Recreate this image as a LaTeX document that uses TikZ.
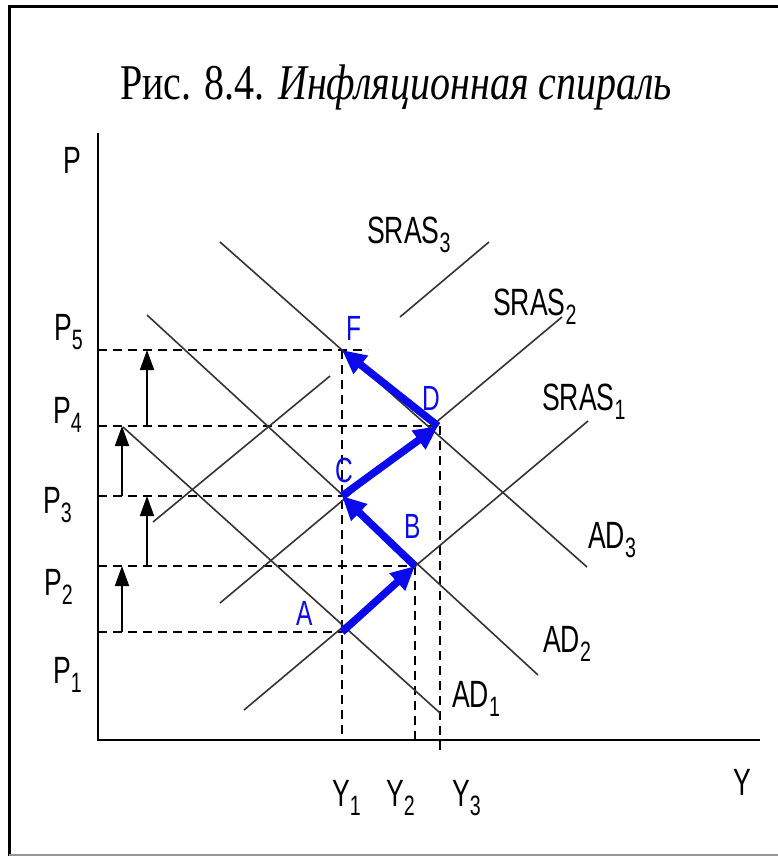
\documentclass[tikz,border=0pt]{standalone}
\usepackage{fontspec}
\usepackage{graphicx}
\setmainfont{Liberation Serif}
\setsansfont{Liberation Sans}
\usetikzlibrary{arrows.meta}
\definecolor{spiral}{RGB}{10,10,235}
\definecolor{frameGray}{RGB}{150,150,150}
\newcommand{\nar}[1]{\scalebox{0.7}[1]{#1}}
\newcommand{\ix}[1]{\raisebox{-0.26em}{\fontsize{28}{28}\selectfont#1}}

\begin{document}
\begin{tikzpicture}[x=1pt, y=-1pt,
    curve/.style={line width=1.6pt, black!80},
    guide/.style={line width=1.8pt, dash pattern=on 9pt off 6pt},
    axis/.style={line width=2.6pt},
    shiftup/.style={-{Triangle[length=20pt,width=14pt]}, line width=1.8pt},
    move/.style={-{Triangle[length=24pt,width=22pt]}, line width=7.5pt, draw=spiral},
    lab/.style={font=\sffamily\fontsize{38}{38}\selectfont, inner sep=0pt, anchor=base west},
    pointlab/.style={lab, font=\sffamily\fontsize{35}{35}\selectfont, text=spiral}
  ]
  \useasboundingbox (0,0) rectangle (778,856);
  % frame
  \draw[line width=3pt] (9,856) -- (9,7) -- (778,7);
  \draw[line width=2pt, frameGray] (9,855) -- (778,855);

  \node[anchor=base west, inner sep=0pt, font=\fontsize{50}{50}\selectfont] (title) at (120,100)
    {\scalebox{0.8}[1]{Рис. 8.4. \textit{Инфляционная спираль}}};

  % equilibrium points
  \coordinate (A) at (342,632);
  \coordinate (B) at (415,566);
  \coordinate (C) at (342,496);
  \coordinate (D) at (438,426);
  \coordinate (F) at (342,350);

  % axes
  \coordinate (O) at (98,740);
  \coordinate (Ptop) at (98,133);
  \coordinate (Yend) at (760,740);
  \draw[axis] (Ptop) -- (O) -- (Yend);

  % price levels
  \coordinate (p1) at (98,632);
  \coordinate (p2) at (98,566);
  \coordinate (p3) at (98,496);
  \coordinate (p4) at (98,426);
  \coordinate (p5) at (98,350);
  \coordinate (p5end) at (368,350);
  \coordinate (y1) at (342,740);
  \coordinate (y2) at (415,740);
  \coordinate (y3) at (440,750);
  \coordinate (D3) at (440,426);
  \draw[guide] (p1) -- (A);
  \draw[guide] (p2) -- (B);
  \draw[guide] (p3) -- (C);
  \draw[guide] (p4) -- (D3);
  \draw[guide] (p5) -- (p5end);
  \draw[guide] (F) -- (y1);
  \draw[guide] (B) -- (y2);
  \draw[guide] (D3) -- (y3);

  % demand
  \coordinate (ad1s) at (123,427); \coordinate (ad1e) at (440,713);
  \coordinate (ad2s) at (147,315); \coordinate (ad2e) at (538,675);
  \coordinate (ad3s) at (220,242); \coordinate (ad3e) at (587,567);
  \draw[curve] (ad1s) -- (ad1e);
  \draw[curve] (ad2s) -- (ad2e);
  \draw[curve] (ad3s) -- (ad3e);

  % supply
  \coordinate (as1s) at (244,710); \coordinate (as1e) at (588,421);
  \coordinate (as2s) at (220,603); \coordinate (as2e) at (562,317);
  \coordinate (as3s) at (153,522); \coordinate (as3m) at (330,376);
  \coordinate (as3n) at (400,317); \coordinate (as3e) at (489,242);
  \draw[curve] (as1s) -- (as1e);
  \draw[curve] (as2s) -- (as2e);
  \draw[curve] (as3s) -- (as3m);
  \draw[curve] (as3n) -- (as3e);

  % price rises
  \coordinate (u1) at (122,632); \coordinate (u2) at (122,566);
  \coordinate (u3) at (147,566); \coordinate (u4) at (147,496);
  \coordinate (u5) at (122,496); \coordinate (u6) at (122,426);
  \coordinate (u7) at (147,426); \coordinate (u8) at (147,350);
  \draw[shiftup] (u1) -- (u2);
  \draw[shiftup] (u3) -- (u4);
  \draw[shiftup] (u5) -- (u6);
  \draw[shiftup] (u7) -- (u8);

  % spiral
  \draw[move] (A) -- (B);
  \draw[move] (B) -- (C);
  \draw[move] (C) -- (D);
  \draw[move] (D) -- (F);

  % labels
  \node[lab] (lP)  at (63,173)  {\nar{P}};
  \node[lab] (lP5) at (54,340)  {\nar{P\ix{5}}};
  \node[lab] (lP4) at (53,423)  {\nar{P\ix{4}}};
  \node[lab] (lP3) at (43,513)  {\nar{P\ix{3}}};
  \node[lab] (lP2) at (44,595)  {\nar{P\ix{2}}};
  \node[lab] (lP1) at (53,683)  {\nar{P\ix{1}}};
  \node[lab] (lY)  at (733,795) {\nar{Y}};
  \node[lab] (lY1) at (332,806) {\nar{Y\ix{1}}};
  \node[lab] (lY2) at (386,806) {\nar{Y\ix{2}}};
  \node[lab] (lY3) at (452,806) {\nar{Y\ix{3}}};
  \node[lab] (lS3) at (367,243) {\nar{SRAS\ix{3}}};
  \node[lab] (lS2) at (493,315) {\nar{SRAS\ix{2}}};
  \node[lab] (lS1) at (542,410) {\nar{SRAS\ix{1}}};
  \node[lab] (lAD3) at (588,548) {\nar{AD\ix{3}}};
  \node[lab] (lAD2) at (543,652) {\nar{AD\ix{2}}};
  \node[lab] (lAD1) at (452,707) {\nar{AD\ix{1}}};
  \node[pointlab] (lF) at (346,340) {\nar{F}};
  \node[pointlab] (lD) at (422,410) {\nar{D}};
  \node[pointlab] (lC) at (335,482) {\nar{C}};
  \node[pointlab] (lB) at (404,538) {\nar{B}};
  \node[pointlab] (lA) at (296,625) {\nar{A}};
\end{tikzpicture}
\end{document}
